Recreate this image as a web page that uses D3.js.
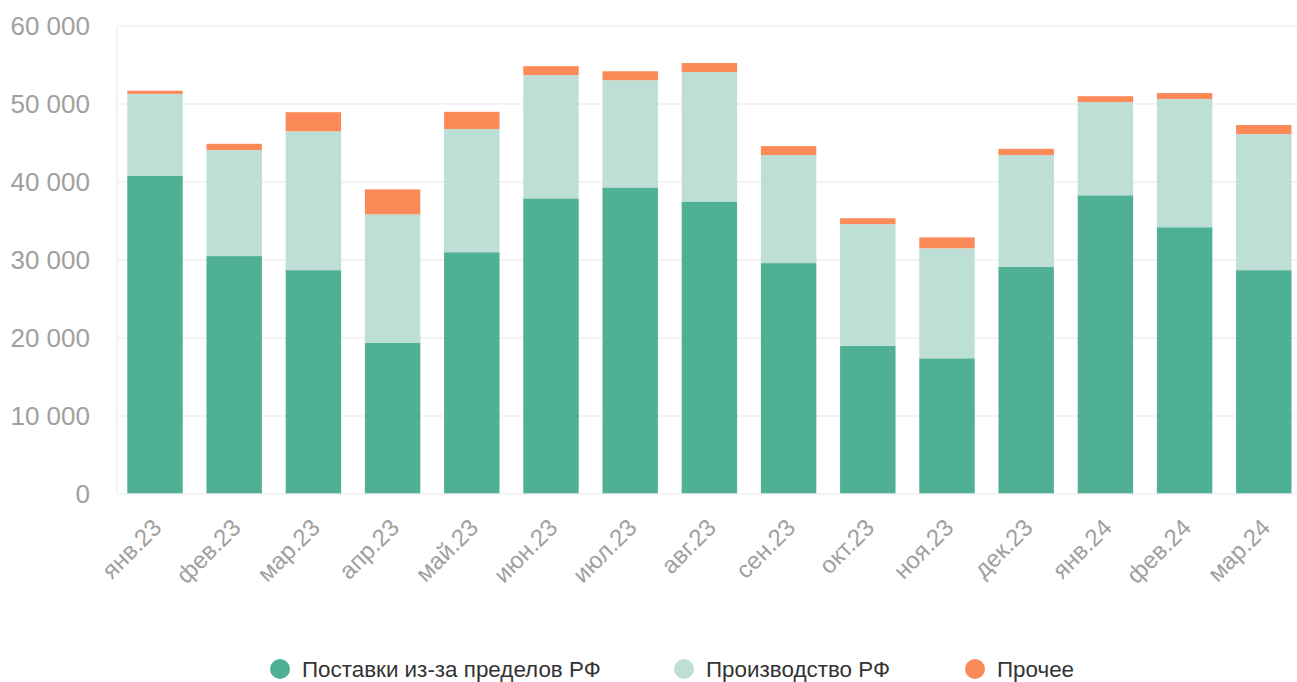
<!DOCTYPE html>
<html><head><meta charset="utf-8">
<script src="https://cdn.jsdelivr.net/npm/d3@7"></script>
<style>
html,body{margin:0;padding:0;background:#fff;}
svg{display:block;font-family:"Liberation Sans",Arial,Helvetica,sans-serif;}
</style></head>
<body>
<svg id="chart" width="1297" height="682"></svg>
<script>
const categories = ["янв.23","фев.23","мар.23","апр.23","май.23","июн.23","июл.23","авг.23","сен.23","окт.23","ноя.23","дек.23","янв.24","фев.24","мар.24"];
const imports = [40800,30500,28700,19400,31000,37900,39300,37500,29600,19000,17400,29100,38300,34200,28700];
const domestic = [10500,13600,17800,16450,15800,15800,13750,16600,13850,15600,14100,14350,11950,16450,17450];
const other = [400,800,2450,3200,2200,1150,1150,1150,1150,750,1400,800,750,750,1150];
const seriesNames = ["Поставки из-за пределов РФ","Производство РФ","Прочее"];
const seriesColors = ["#50b095","#bddfd5","#fc8a58"];
const yTicks = [0,10000,20000,30000,40000,50000,60000];

const svg = d3.select("#chart");
const plot = {left:117, right:1297, top:26, bottom:494};

const x = d3.scaleBand().domain(categories).range([115.4,1303.4]).paddingInner(0.3).paddingOuter(0.15);
const y = d3.scaleLinear().domain([0,60000]).range([plot.bottom, plot.top]);

const rows = categories.map((c,i)=>({cat:c, s0:imports[i], s1:domestic[i], s2:other[i]}));
const stack = d3.stack().keys(["s0","s1","s2"])(rows);

// grid
svg.append("g").selectAll("line").data(yTicks.filter(d=>d>0)).join("line")
  .attr("x1",plot.left).attr("x2",plot.right)
  .attr("y1",d=>y(d)).attr("y2",d=>y(d))
  .attr("stroke","#efefef").attr("stroke-width",1.5);

// y axis line
svg.append("line").attr("x1",plot.left).attr("x2",plot.left).attr("y1",plot.top).attr("y2",plot.bottom)
  .attr("stroke","#efefef").attr("stroke-width",1.5);

// bars
svg.append("g").selectAll("g").data(stack).join("g")
  .attr("fill",(d,i)=>seriesColors[i])
  .selectAll("rect").data(d=>d).join("rect")
  .attr("x",d=>x(d.data.cat))
  .attr("width",x.bandwidth())
  .attr("y",d=>y(d[1]))
  .attr("height",d=>y(d[0])-y(d[1]));

// x axis line
svg.append("line").attr("x1",plot.left).attr("x2",plot.right).attr("y1",plot.bottom).attr("y2",plot.bottom)
  .attr("stroke","#efefef").attr("stroke-width",1.5);

// y tick labels
svg.append("g").selectAll("text").data(yTicks).join("text")
  .attr("x",90).attr("y",d=>y(d))
  .attr("dy","0.35em")
  .attr("text-anchor","end")
  .attr("fill","#a0a0a0")
  .attr("font-size",26)
  .text(d=>d===0?"0":d3.format(",")(d).replace(/,/g," "));

// x tick labels
svg.append("g").selectAll("text").data(categories).join("text")
  .attr("transform",d=>`translate(${x(d)+x.bandwidth()/2+8},529) rotate(-45)`)
  .attr("text-anchor","end")
  .attr("fill","#a0a0a0")
  .attr("font-size",24)
  .text(d=>d);

// legend
const legendX = [280,684,975];
const lg = svg.append("g").selectAll("g").data(seriesNames).join("g")
  .attr("transform",(d,i)=>`translate(${legendX[i]},669)`);
lg.append("circle").attr("r",10).attr("fill",(d,i)=>seriesColors[i]);
lg.append("text").attr("x",22).attr("dy","0.35em").attr("font-size",22.4).attr("fill","#333").text(d=>d);
</script>
</body></html>
